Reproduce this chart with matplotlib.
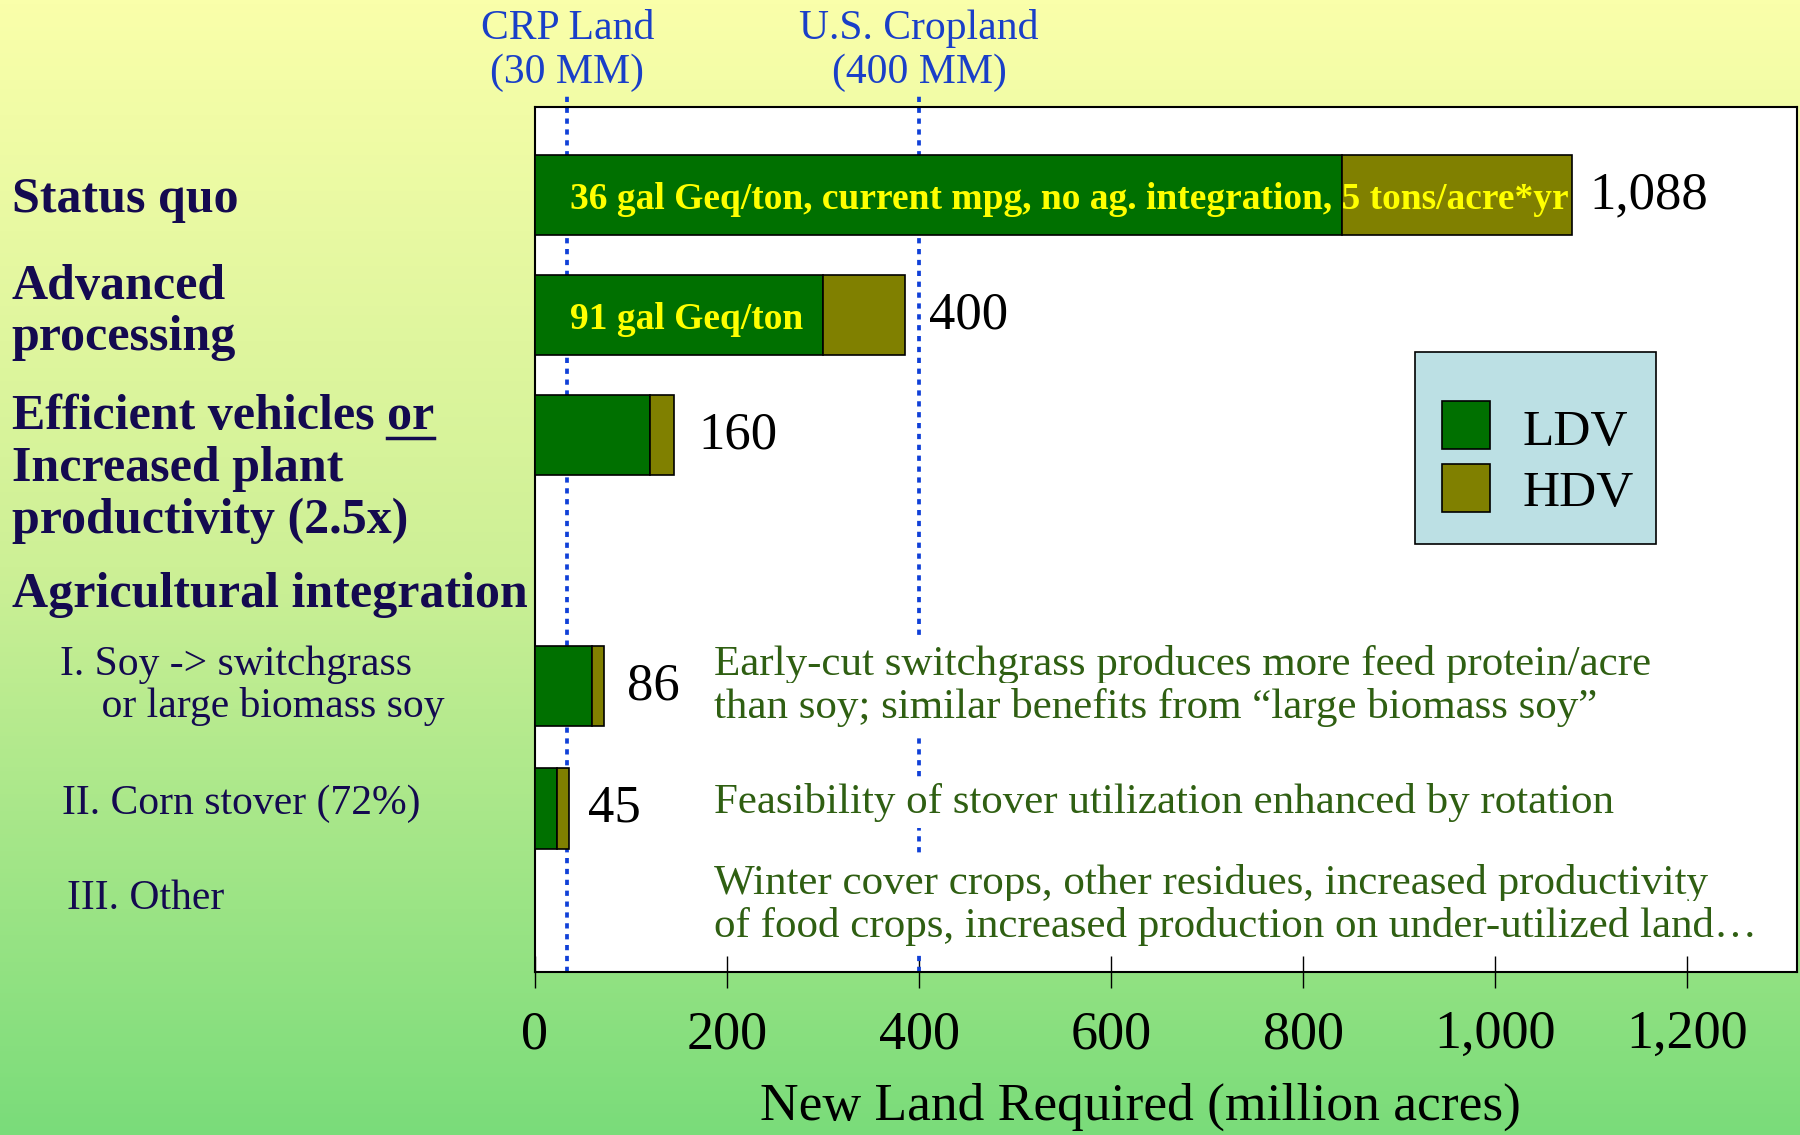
import matplotlib.pyplot as plt
import numpy as np
from matplotlib.patches import Rectangle
from matplotlib.ticker import FuncFormatter

plt.rcParams['font.family'] = ['Liberation Serif', 'DejaVu Serif']

# values (million acres)
scenarios = ['Status quo', 'Advanced processing', 'Efficient vehicles or plant productivity',
             'Soy -> switchgrass', 'Corn stover (72%)']
ldv = [840, 300, 120, 60, 23]
hdv = [240, 85, 25, 12, 13]
total_labels = [1088, 400, 160, 86, 45]
bar_notes = ['36 gal Geq/ton, current mpg, no ag. integration, 5 tons/acre*yr', '91 gal Geq/ton', '', '', '']
ref_values = [34, 400]
ref_labels = [['CRP Land', '(30 MM)'], ['U.S. Cropland', '(400 MM)']]
xticks = [0, 200, 400, 600, 800, 1000, 1200]

# layout
row_pos = [0, 1, 2, 4.09, 5.11]
W, H = 1800, 1135
def fx(p):
    return p / W
def fy(p):
    return 1 - p / H

navy = '#140A50'
blue = '#1A3FC8'
dgreen = '#2F5F12'
ldv_col = '#007000'
hdv_col = '#808000'

fig = plt.figure(figsize=(18, 11.35), dpi=100)

# gradient background
bg = fig.add_axes([0, 0, 1, 1], zorder=-10)
t = np.linspace(0, 1, 256)
stops = [0, 0.5, 1]
cols = [(250, 255, 170), (205, 240, 150), (122, 220, 122)]
grad = np.stack([np.interp(t, stops, ch) for ch in zip(*cols)], axis=-1) / 255.0
bg.imshow(grad.reshape(256, 1, 3), aspect='auto', extent=[0, 1, 0, 1])
bg.axis('off')

ax = fig.add_axes([fx(534.8), fy(971.7), fx(1797 - 534.8), (971.7 - 107.3) / H])
ax.set_facecolor('white')

b1 = ax.barh(row_pos, ldv, height=0.67, color=ldv_col, edgecolor='black', linewidth=1.2, zorder=3)
b2 = ax.barh(row_pos, hdv, left=ldv, height=0.67, color=hdv_col, edgecolor='black', linewidth=1.2, zorder=3)

ax.set_xlim(0, 1314)
ax.set_ylim(6.47, -0.733)


def lines_at(x, base, step, lines, **kw):
    # one fig.text per line, baselines in reference pixels
    out = []
    for i, s in enumerate(lines):
        out.append(fig.text(fx(x), fy(base + i * step), s, va='baseline', **kw))
    return out


# reference lines
for v, lab in zip(ref_values, ref_labels):
    ax.plot([v, v], [0, 1.018], transform=ax.get_xaxis_transform(), clip_on=False,
            color='#1040D8', linewidth=2.7, linestyle=(0, (1.4, 1.5)), zorder=2)
    for i, s in enumerate(lab):
        ax.text(v, (971.7 - 39.3 - i * 44) / 864.4, s, transform=ax.get_xaxis_transform(),
                ha='center', va='baseline', fontsize=30, color=blue)

# totals and notes on bars
for y, lab, note in zip(row_pos, total_labels, bar_notes):
    ax.annotate(f'{lab:,}', xy=(lab, y), xytext=(7, 0), textcoords='offset points',
                va='center', ha='left', fontsize=38, color='black', zorder=6)
    if note:
        ax.text(37, y, note, va='center_baseline', ha='left', fontsize=27,
                fontweight='bold', color='#FFFF00', zorder=6)

ax.set_xticks(xticks)
ax.xaxis.set_major_formatter(FuncFormatter(lambda v, p: f'{int(v):,}'))
ax.tick_params(axis='x', direction='inout', length=22.8, width=1, labelsize=39, pad=16)
ax.set_yticks([])
for s in ax.spines.values():
    s.set_linewidth(1.5)
ax.set_xlabel('New Land Required (million acres)', fontsize=38.5, labelpad=16)
ax.xaxis.label.set_x(0.48)

# left category labels
bold = dict(fontsize=36, fontweight='bold', color=navy)
lines_at(11.5, 211.7, 0, ['Status quo'], **bold)
lines_at(11.5, 299.3, 51, ['Advanced', 'processing'], **bold)
t_eff = lines_at(11.5, 429.3, 51.7, ['Efficient vehicles or', 'Increased plant', 'productivity (2.5x)'], **bold)[0]
lines_at(11.5, 606.7, 0, ['Agricultural integration'], **bold)
lines_at(60.5, 675, 42.3, ['I. Soy -> switchgrass', '    or large biomass soy'], fontsize=30, color=navy)
lines_at(62, 814, 0, ['II. Corn stover (72%)'], fontsize=30, color=navy)
lines_at(67, 909, 0, ['III. Other'], fontsize=30, color=navy)

# notes to the right
note_kw = dict(fontsize=31, color=dgreen, bbox=dict(facecolor='white', edgecolor='none', pad=4))
lines_at(714, 675, 43.3, ['Early-cut switchgrass produces more feed protein/acre',
                          'than soy; similar benefits from \u201clarge biomass soy\u201d'], **note_kw)
lines_at(714, 813.3, 0, ['Feasibility of stover utilization enhanced by rotation'], **note_kw)
lines_at(714, 894, 43, ['Winter cover crops, other residues, increased productivity',
                        'of food crops, increased production on under-utilized land\u2026'], **note_kw)

# legend box
ax.add_patch(Rectangle((0.6974, 0.4948), 0.8883 - 0.6974, 0.7166 - 0.4948, transform=ax.transAxes,
                       facecolor='#BCE0E4', edgecolor='black', linewidth=1.2, zorder=5))
for bars, name, ytop, ybase in [(b1, 'LDV', 0.6606, 0.6093), (b2, 'HDV', 0.5873, 0.5391)]:
    ax.add_patch(Rectangle((0.7185, ytop - 0.0559), 0.7568 - 0.7185, 0.0559, transform=ax.transAxes,
                           facecolor=bars.patches[0].get_facecolor(), edgecolor='black',
                           linewidth=1.2, zorder=6))
    ax.text(0.7827, ybase, name, transform=ax.transAxes, fontsize=37, va='baseline', zorder=7)

# underline "or"
fig.canvas.draw()
r = fig.canvas.get_renderer()
bb = t_eff.get_window_extent(r)
tmp = fig.text(0, 0, 'or', fontsize=36, fontweight='bold')
w_or = tmp.get_window_extent(r).width
tmp.remove()
fig.add_artist(plt.Line2D([(bb.x1 - w_or) / W, bb.x1 / W], [fy(438.3), fy(438.3)],
                          transform=fig.transFigure, color=navy, linewidth=2.5))

fig.savefig('out.png', dpi=100)
